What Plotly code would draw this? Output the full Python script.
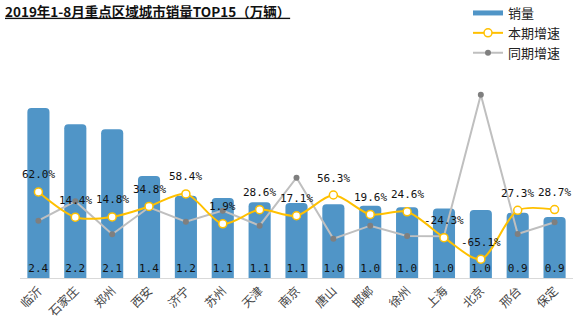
import plotly.graph_objects as go

cities = ["临沂", "石家庄", "郑州", "西安", "济宁", "苏州", "天津", "南京", "唐山", "邯郸", "徐州", "上海", "北京", "邢台", "保定"]
sales = [2.40, 2.17, 2.10, 1.44, 1.16, 1.13, 1.07, 1.06, 1.04, 1.02, 1.00, 0.98, 0.96, 0.92, 0.86]
cur_growth = [62.0, 14.4, 14.8, 34.8, 58.4, 1.9, 28.6, 17.1, 56.3, 19.6, 24.6, -24.3, -65.1, 27.3, 28.7]
prev_growth = [7.8, 44.4, -18.0, 33.1, 5.9, 26.7, -1.7, 89.0, -26.3, -1.7, -21.2, -21.7, 245.9, -17.4, 4.7]

BLUE = "#5095C7"
YELLOW = "#FFC000"
GRAY_LINE = "#BFBFBF"
GRAY_MARK = "#7F7F7F"
MONO = "DejaVu Sans Mono"
CJK = "Noto Sans CJK SC"

fig = go.Figure()
fig.add_trace(go.Bar(
    x=cities, y=sales, name="销量", showlegend=False,
    marker=dict(color=BLUE, cornerradius=4, line=dict(width=0)),
    width=0.6,
    text=[f"{v:.1f}" for v in sales], textposition="inside", insidetextanchor="start",
    textfont=dict(family=MONO, size=11, color="#111111"), textangle=0,
    yaxis="y",
))
# legend entry for bars (wide bar symbol as in reference)
fig.add_trace(go.Scatter(
    x=[None], y=[None], mode="lines", name="销量", legendrank=1,
    line=dict(color=BLUE, width=5), yaxis="y2",
))
fig.add_trace(go.Scatter(
    x=cities, y=prev_growth, name="同期增速", mode="lines+markers", legendrank=3,
    line=dict(color=GRAY_LINE, width=2),
    marker=dict(color=GRAY_MARK, size=6),
    yaxis="y2",
))
fig.add_trace(go.Scatter(
    x=cities, y=cur_growth, name="本期增速", mode="lines+markers", legendrank=2,
    line=dict(color=YELLOW, width=2, shape="spline", smoothing=0.8),
    marker=dict(color="white", size=8, line=dict(color=YELLOW, width=1.5)),
    yaxis="y2",
))

for c, v in zip(cities, cur_growth):
    fig.add_annotation(
        x=c, y=v, xref="x", yref="y2", text=f"{v:.1f}%", showarrow=False,
        yshift=17, font=dict(family=MONO, size=11, color="#111111"),
    )

fig.update_layout(
    width=580, height=334,
    margin=dict(l=20, r=7, t=80, b=56, autoexpand=False),
    paper_bgcolor="white", plot_bgcolor="white",
    title=dict(
        text="<b><u>2019年1-8月重点区域城市销量TOP15（万辆）</u></b>",
        font=dict(family=CJK, size=13.5, color="#111111"),
        x=5 / 580, xref="container", xanchor="left",
        y=1 - 12 / 334, yref="container", yanchor="middle",
    ),
    xaxis=dict(
        type="category", range=[-0.5, 14.5], tickangle=-45,
        tickfont=dict(family=CJK, size=12, color="#444444"),
        showline=True, linecolor="#D9D9D9", linewidth=1,
        showgrid=False, ticks="", zeroline=False,
    ),
    yaxis=dict(range=[0, 2.795], visible=False, showgrid=False, zeroline=False),
    yaxis2=dict(range=[-100.6, 273.7], overlaying="y", side="right",
                visible=False, showgrid=False, zeroline=False),
    legend=dict(
        x=(468 - 20) / 553, xref="paper", xanchor="left",
        y=(278 + 2) / 198, yref="paper", yanchor="top",
        font=dict(family=CJK, size=13, color="#222222"),
        itemwidth=30, bgcolor="rgba(0,0,0,0)", tracegroupgap=0,
    ),
    uniformtext=dict(minsize=11, mode="show"),
)

fig.write_html("out.html")
